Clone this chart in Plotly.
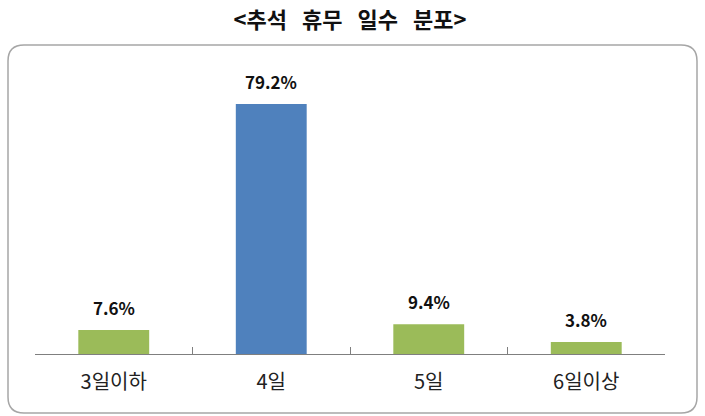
import plotly.graph_objects as go

# data
categories = ['3일이하', '4일', '5일', '6일이상']
values = [7.6, 79.2, 9.4, 3.8]
bar_colors = ['#9BBB59', '#4F81BD', '#9BBB59', '#9BBB59']
value_labels = ['7.6%', '79.2%', '9.4%', '3.8%']

W, H = 705, 416
# plot area in pixels
L, R, T, B = 35, 665, 60, 354

fig = go.Figure(go.Bar(
    x=categories, y=values,
    marker=dict(color=bar_colors, line=dict(width=0)),
    width=0.45,
    hoverinfo='x+y',
))

# value labels above bars
for c, v, t in zip(categories, values, value_labels):
    fig.add_annotation(x=c, y=v, text='<b>' + t + '</b>', showarrow=False,
                       yanchor='bottom', yshift=8,
                       font=dict(family='Noto Sans CJK KR', size=17, color='#111111'))

# rounded frame, pixel values converted to paper coords
def px(x):
    return (x - L) / (R - L)

def py(y):
    return (B - y) / (B - T)

x0, x1, y0, y1, r = 8, 697, 45, 413, 16
path = (f'M {px(x0 + r)} {py(y0)} L {px(x1 - r)} {py(y0)} '
        f'Q {px(x1)} {py(y0)} {px(x1)} {py(y0 + r)} '
        f'L {px(x1)} {py(y1 - r)} Q {px(x1)} {py(y1)} {px(x1 - r)} {py(y1)} '
        f'L {px(x0 + r)} {py(y1)} Q {px(x0)} {py(y1)} {px(x0)} {py(y1 - r)} '
        f'L {px(x0)} {py(y0 + r)} Q {px(x0)} {py(y0)} {px(x0 + r)} {py(y0)} Z')

fig.update_layout(
    width=W, height=H,
    margin=dict(l=L, r=W - R, t=T, b=H - B),
    paper_bgcolor='white', plot_bgcolor='white',
    showlegend=False,
    title=dict(text='<b><추석   휴무   일수   분포></b>', x=0.5, xref='paper', xanchor='center',
               y=1 - 20 / H, yanchor='middle',
               font=dict(family='Noto Sans CJK KR', size=22, color='#111111')),
    shapes=[dict(type='path', xref='paper', yref='paper', path=path,
                 line=dict(color='#A6A6A6', width=1.5), layer='below')],
    xaxis=dict(showline=True, linecolor='#7F7F7F', linewidth=1.2,
               ticks='inside', tickson='boundaries', ticklen=7, tickcolor='#7F7F7F', tickwidth=1.2,
               ticklabelstandoff=10,
               tickfont=dict(family='Noto Sans CJK KR', size=20, color='#222222'),
               showgrid=False, fixedrange=True),
    yaxis=dict(range=[0, (B - T) / 3.157], visible=False, showgrid=False, fixedrange=True),
)

# drop the default body margin so the figure sits at the window's top-left corner
fig.write_html('out.html', config={'displayModeBar': False},
               post_script="document.body.style.margin='0';")
